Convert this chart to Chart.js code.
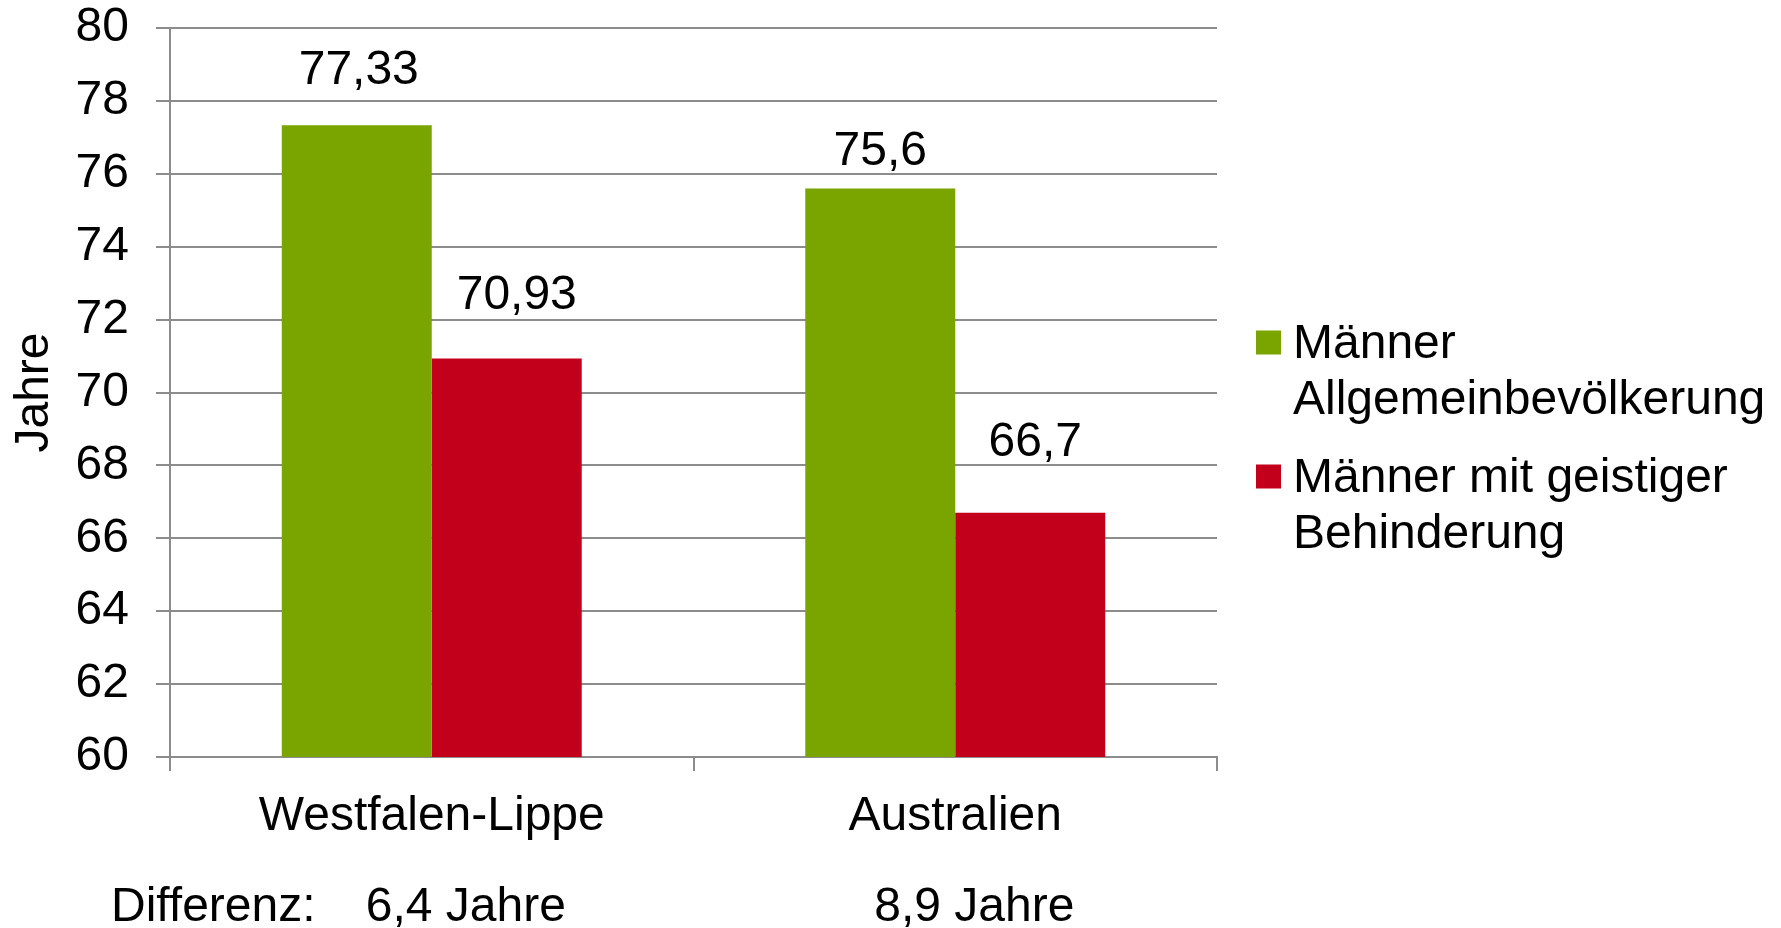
<!DOCTYPE html>
<html>
<head>
<meta charset="utf-8">
<script src="https://cdn.jsdelivr.net/npm/chart.js@4/dist/chart.umd.min.js"></script>
<style>
  html, body { margin: 0; padding: 0; background: #ffffff; }
  #wrap { width: 1781px; height: 928px; position: relative; }
</style>
</head>
<body>
<div id="wrap"><canvas id="c" width="1781" height="928"></canvas></div>
<script>
// ---- data ----
const categories = ['Westfalen-Lippe', 'Australien'];
const allgemein = [77.33, 75.6];
const geistig = [70.93, 66.7];
const seriesNames = [['Männer', 'Allgemeinbevölkerung'], ['Männer mit geistiger', 'Behinderung']];
const differenzLabel = 'Differenz:';
const differenz = ['6,4 Jahre', '8,9 Jahre'];
const yTicks = [60, 62, 64, 66, 68, 70, 72, 74, 76, 78, 80];
const yTitle = 'Jahre';

const FONT = "'Liberation Sans', Arial, Helvetica, sans-serif";
const FS = 48;
const GREEN = '#7AA500';
const RED = '#C3001C';
const GRID = '#8c8c8c';

// per-bar label offsets [dx, dy] in px relative to bar top-centre (baseline)
const labelOffsets = [[[2, -41], [0, -23]], [[10, -50], [5, -57]]];

const fmt = v => String(v).replace('.', ',');

const dataLabels = {
  id: 'dataLabels',
  afterDatasetsDraw(chart) {
    const ctx = chart.ctx;
    ctx.save();
    ctx.font = FS + 'px ' + FONT;
    ctx.fillStyle = '#000';
    ctx.textAlign = 'center';
    ctx.textBaseline = 'alphabetic';
    chart.data.datasets.forEach((ds, di) => {
      const meta = chart.getDatasetMeta(di);
      meta.data.forEach((el, i) => {
        const o = labelOffsets[di][i];
        ctx.fillText(fmt(ds.data[i]), el.x + o[0], el.y + o[1]);
      });
    });
    ctx.restore();
  }
};

const extras = {
  id: 'extras',
  afterDraw(chart) {
    const ctx = chart.ctx;
    const xs = chart.scales.x;
    ctx.save();
    ctx.font = FS + 'px ' + FONT;
    ctx.fillStyle = '#000';
    ctx.textBaseline = 'alphabetic';
    ctx.textAlign = 'left';
    const baseY = 921;
    ctx.fillText(differenzLabel, 111, baseY);
    const dxs = [-66, -81];
    differenz.forEach((t, i) => {
      ctx.fillText(t, xs.getPixelForValue(i) + dxs[i], baseY);
    });
    // legend
    const colors = chart.data.datasets.map(d => d.backgroundColor);
    const itemBase = [358, 492];
    seriesNames.forEach((lines, i) => {
      ctx.fillStyle = colors[i];
      ctx.fillRect(1256, itemBase[i] - 27.5, 25, 24);
      ctx.fillStyle = '#000';
      lines.forEach((ln, k) => ctx.fillText(ln, 1293, itemBase[i] + k * 56));
    });
    ctx.restore();
  }
};

new Chart(document.getElementById('c'), {
  type: 'bar',
  data: {
    labels: categories,
    datasets: [
      { label: seriesNames[0].join(' '), data: allgemein, backgroundColor: GREEN, borderWidth: 0 },
      { label: seriesNames[1].join(' '), data: geistig, backgroundColor: RED, borderWidth: 0 }
    ]
  },
  options: {
    responsive: false,
    devicePixelRatio: 1,
    animation: false,
    events: [],
    layout: { padding: { top: 28, right: 564, left: 0, bottom: 0 } },
    datasets: { bar: { categoryPercentage: 0.573, barPercentage: 1.0 } },
    plugins: { legend: { display: false }, tooltip: { enabled: false } },
    scales: {
      x: {
        offset: true,
        grid: { offset: true, drawOnChartArea: false, drawTicks: true, tickLength: 14, color: GRID, lineWidth: 2 },
        border: { display: true, color: GRID, width: 2 },
        ticks: { color: '#000', font: { family: FONT, size: FS }, padding: 17, maxRotation: 0 },
        afterFit(s) { s.height = 171; s.paddingLeft = 0; s.paddingRight = 0; }
      },
      y: {
        min: 60, max: 80,
        afterBuildTicks(s) { s.ticks = yTicks.map(v => ({ value: v })); },
        grid: { color: GRID, lineWidth: 2, tickLength: 14, drawTicks: true },
        border: { display: true, color: GRID, width: 2 },
        ticks: { color: '#000', font: { family: FONT, size: FS, lineHeight: 1 }, padding: 27 },
        title: { display: true, text: yTitle, color: '#000', font: { family: FONT, size: FS }, padding: { top: 6, bottom: 0 } },
        afterFit(s) { s.width = 170; s.paddingTop = 0; s.paddingBottom = 0; }
      }
    }
  },
  plugins: [dataLabels, extras]
});
</script>
</body>
</html>
